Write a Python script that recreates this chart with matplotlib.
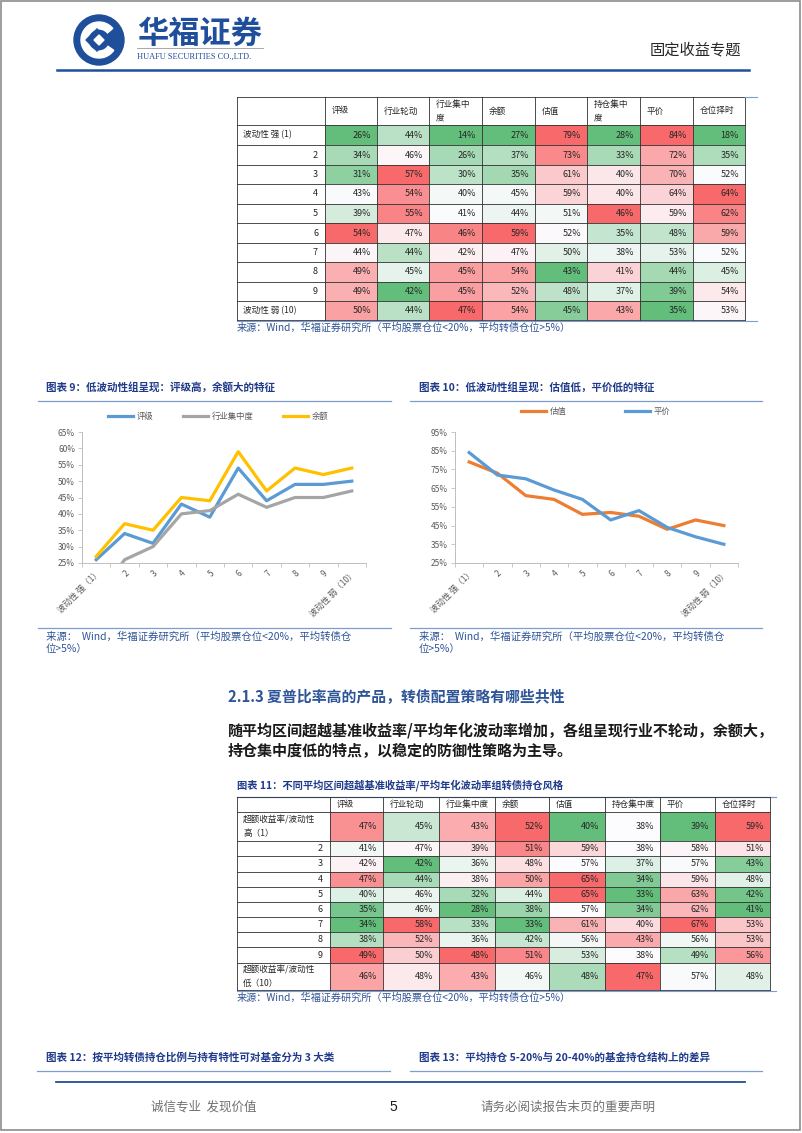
import matplotlib.pyplot as plt
import numpy as np
from matplotlib.patches import Rectangle, Circle, Wedge, Polygon
from matplotlib.ticker import FuncFormatter

plt.rcParams['font.family'] = ['Noto Sans CJK SC', 'DejaVu Sans']

W, H = 802, 1133

# ---- table 1 / charts 9-10 data (波动性分组) ----
t1_cols = ['评级', '行业轮动', '行业集中\n度', '余额', '估值', '持仓集中\n度', '平价', '仓位择时']
t1_rows = ['波动性 强 (1)', '2', '3', '4', '5', '6', '7', '8', '9', '波动性 弱 (10)']
vol_rating = [26, 34, 31, 43, 39, 54, 44, 49, 49, 50]
vol_rotation = [44, 46, 57, 54, 55, 47, 44, 45, 42, 44]
vol_ind_conc = [14, 26, 30, 40, 41, 46, 42, 45, 45, 47]
vol_balance = [27, 37, 35, 45, 44, 59, 47, 54, 52, 54]
vol_valuation = [79, 73, 61, 59, 51, 52, 50, 43, 48, 45]
vol_hold_conc = [28, 33, 40, 40, 46, 35, 38, 41, 37, 43]
vol_parity = [84, 72, 70, 64, 59, 48, 53, 44, 39, 35]
vol_timing = [18, 35, 52, 64, 62, 59, 52, 45, 54, 53]

chart_cats = ['波动性 强（1）', '2', '3', '4', '5', '6', '7', '8', '9', '波动性 弱（10）']

# ---- table 2 data (超额收益率/波动性分组) ----
t2_cols = ['评级', '行业轮动', '行业集中度', '余额', '估值', '持仓集中度', '平价', '仓位择时']
t2_rows = ['超额收益率/波动性\n高（1）', '2', '3', '4', '5', '6', '7', '8', '9',
           '超额收益率/波动性\n低（10）']
sr_rating = [47, 41, 42, 47, 40, 35, 34, 38, 49, 46]
sr_rotation = [45, 47, 42, 44, 46, 46, 58, 52, 50, 48]
sr_ind_conc = [43, 39, 36, 38, 32, 28, 33, 36, 48, 43]
sr_balance = [52, 51, 48, 50, 44, 38, 33, 42, 51, 46]
sr_valuation = [40, 59, 57, 65, 65, 57, 61, 56, 53, 48]
sr_hold_conc = [38, 38, 37, 34, 33, 34, 40, 43, 38, 47]
sr_parity = [39, 58, 57, 59, 63, 62, 67, 56, 49, 57]
sr_timing = [59, 51, 43, 48, 42, 41, 53, 53, 56, 48]

BLUE = '#1F4E9A'
TITLE_BLUE = '#1F3A8A'
SRC_BLUE = '#2F5496'
LINE_BLUE = '#7F9CD0'


def frac(x0, y0, x1, y1):
    return [x0 / W, 1 - y1 / H, (x1 - x0) / W, (y1 - y0) / H]


def scale_colors(vals):
    # excel style 3-colour scale: min green, median white, max red
    green = np.array([99, 190, 123]) / 255
    white = np.array([252, 252, 255]) / 255
    red = np.array([248, 105, 107]) / 255
    v = np.array(vals, float)
    lo, mid, hi = v.min(), np.percentile(v, 50), v.max()
    out = []
    for x in v:
        if x <= mid:
            t = 0 if mid == lo else (x - lo) / (mid - lo)
            out.append(green + (white - green) * t)
        else:
            t = (x - mid) / (hi - mid)
            out.append(white + (red - white) * t)
    return out


def draw_table(ax, cols, rows, data, xe, ye, fs=6.2):
    for j, c in enumerate(cols):
        ax.text(xe[j + 1] + 7, (ye[0] + ye[1]) / 2, c, ha='left', va='center',
                fontsize=fs, color='#262626', linespacing=1.7)
    colours = [scale_colors(col) for col in data]
    for i, r in enumerate(rows):
        y0, y1 = ye[i + 1], ye[i + 2]
        ym = (y0 + y1) / 2
        if r.isdigit():
            ax.text(xe[1] - 7, ym, r, ha='right', va='center', fontsize=fs + 0.3, color='#262626')
        else:
            ax.text(xe[0] + 6, ym, r, ha='left', va='center', fontsize=fs,
                    color='#262626', linespacing=1.7)
        for j in range(len(cols)):
            ax.add_patch(Rectangle((xe[j + 1], y0), xe[j + 2] - xe[j + 1], y1 - y0,
                                   facecolor=colours[j][i], edgecolor='none'))
            ax.text(xe[j + 2] - 6, ym, f'{data[j][i]}%', ha='right', va='center',
                    fontsize=fs + 0.3, color='#262626')
    for x in xe:
        ax.plot([x, x], [ye[0], ye[-1]], color='#303030', lw=0.6)
    for y in ye:
        ax.plot([xe[0], xe[-1]], [y, y], color='#303030', lw=0.6)


def style_chart(ax, ymin, ymax, step):
    ax.set_xlim(-0.5, 9.5)
    ax.set_ylim(ymin / 100, ymax / 100)
    ax.set_yticks(np.arange(ymin, ymax + 1, step) / 100)
    ax.yaxis.set_major_formatter(FuncFormatter(lambda v, p: f'{v * 100:.0f}%'))
    ax.set_xticks(np.arange(10))
    ax.set_xticklabels(chart_cats, rotation=45, ha='right', rotation_mode='anchor')
    ax.set_xticks(np.arange(-0.5, 10, 1), minor=True)
    ax.tick_params(axis='x', which='major', length=0, pad=4, labelsize=6, labelcolor='#595959')
    ax.tick_params(axis='x', which='minor', length=3, color='#BFBFBF', width=0.6)
    ax.tick_params(axis='y', length=3, color='#BFBFBF', width=0.6, labelsize=6,
                   labelcolor='#595959', pad=2)
    for s in ['top', 'right']:
        ax.spines[s].set_visible(False)
    for s in ['left', 'bottom']:
        ax.spines[s].set_color('#BFBFBF')
        ax.spines[s].set_linewidth(0.7)
    ax.patch.set_alpha(0)


fig = plt.figure(figsize=(W / 100, H / 100), dpi=100)
page = fig.add_axes([0, 0, 1, 1])
page.set_xlim(0, W)
page.set_ylim(H, 0)
page.axis('off')

# page frame
page.add_patch(Rectangle((1, 1), W - 3, H - 4, fill=False, edgecolor='#8C8C8C', lw=1.2))

# ---- header ----
page.add_patch(Circle((99, 40), 25, color=BLUE))
page.add_patch(Wedge((99, 40), 18, 35, 320, width=7, color='white'))
page.add_patch(Polygon([[97, 29], [109, 40], [97, 51], [86, 40]], closed=True, color=BLUE))
page.add_patch(Polygon([[99, 35], [104, 40], [99, 45], [94, 40]], closed=True, color='white'))
page.text(137, 34, '华福证券', fontsize=22.5, fontweight='bold', color=BLUE, ha='left', va='center')
page.plot([137, 263], [48, 48], color='#9A9A9A', lw=0.6)
page.text(137, 57, 'HUAFU SECURITIES CO.,LTD.', fontsize=6, family='Liberation Serif',
          color=BLUE, ha='left', va='center')
page.text(741, 50, '固定收益专题', fontsize=11, color='#262626', ha='right', va='center')
page.plot([57, 749], [70, 70], color=BLUE, lw=1.8)

# ---- table 1 ----
t1_data = [vol_rating, vol_rotation, vol_ind_conc, vol_balance,
           vol_valuation, vol_hold_conc, vol_parity, vol_timing]
draw_table(page, t1_cols, t1_rows, t1_data,
           [237, 325, 377, 429, 482, 535, 587, 640, 693, 745],
           [97, 125, 145, 165, 184, 204, 223, 243, 262, 282, 301, 320])
page.plot([745, 757], [97, 97], color=LINE_BLUE, lw=0.8)
page.plot([237, 757], [321, 321], color=LINE_BLUE, lw=0.8)
page.text(237, 328, '来源：Wind，华福证券研究所（平均股票仓位<20%，平均转债仓位>5%）',
          fontsize=7.3, style='italic', color=SRC_BLUE, ha='left', va='center')

# ---- chart 9 ----
page.text(46, 387, '图表 9：低波动性组呈现：评级高，余额大的特征', fontsize=7.6,
          fontweight='bold', color=TITLE_BLUE, ha='left', va='center')
page.plot([38, 391], [401, 401], color=LINE_BLUE, lw=0.9)
page.plot([38, 391], [628, 628], color=LINE_BLUE, lw=0.9)
page.text(46, 637, '来源：  Wind，华福证券研究所（平均股票仓位<20%，平均转债仓', fontsize=7.5,
          style='italic', color=SRC_BLUE, ha='left', va='center')
page.text(46, 649, '位>5%）', fontsize=7.5, style='italic', color=SRC_BLUE, ha='left', va='center')

ax9 = fig.add_axes(frac(82, 432, 366, 563))
x = np.arange(10)
ax9.plot(x, np.array(vol_rating) / 100, color='#5B9BD5', lw=2.3, label='评级')
ax9.plot(x, np.array(vol_ind_conc) / 100, color='#A5A5A5', lw=2.3, label='行业集中度')
ax9.plot(x, np.array(vol_balance) / 100, color='#FFC000', lw=2.3, label='余额')
style_chart(ax9, 25, 65, 5)
ax9.legend(loc='lower center', bbox_to_anchor=(0.48, 1.058), ncol=3, frameon=False,
           fontsize=6, handlelength=3, handletextpad=0.4, columnspacing=3.6,
           labelcolor='#595959', borderaxespad=0)

# ---- chart 10 ----
page.text(419, 387, '图表 10：低波动性组呈现：估值低，平价低的特征', fontsize=7.6,
          fontweight='bold', color=TITLE_BLUE, ha='left', va='center')
page.plot([410, 762], [401, 401], color=LINE_BLUE, lw=0.9)
page.plot([410, 762], [628, 628], color=LINE_BLUE, lw=0.9)
page.text(419, 637, '来源：  Wind，华福证券研究所（平均股票仓位<20%，平均转债仓', fontsize=7.5,
          style='italic', color=SRC_BLUE, ha='left', va='center')
page.text(419, 649, '位>5%）', fontsize=7.5, style='italic', color=SRC_BLUE, ha='left', va='center')

ax10 = fig.add_axes(frac(455, 432, 738, 563))
ax10.plot(x, np.array(vol_valuation) / 100, color='#ED7D31', lw=2.3, label='估值')
ax10.plot(x, np.array(vol_parity) / 100, color='#5B9BD5', lw=2.3, label='平价')
style_chart(ax10, 25, 95, 10)
ax10.legend(loc='lower center', bbox_to_anchor=(0.497, 1.095), ncol=2, frameon=False,
            fontsize=6, handlelength=3, handletextpad=0.4, columnspacing=7,
            labelcolor='#595959', borderaxespad=0)

# ---- section text ----
page.text(228, 697, '2.1.3 夏普比率高的产品，转债配置策略有哪些共性', fontsize=10.7,
          fontweight='bold', color='#2E5597', ha='left', va='center')
page.text(228, 731, '随平均区间超越基准收益率/平均年化波动率增加，各组呈现行业不轮动，余额大，',
          fontsize=10.85, fontweight='bold', color='#1A1A1A', ha='left', va='center')
page.text(228, 751, '持仓集中度低的特点，以稳定的防御性策略为主导。',
          fontsize=10.85, fontweight='bold', color='#1A1A1A', ha='left', va='center')

# ---- table 2 ----
page.text(237, 785, '图表 11：不同平均区间超越基准收益率/平均年化波动率组转债持仓风格',
          fontsize=7.4, fontweight='bold', color=TITLE_BLUE, ha='left', va='center')
page.plot([237, 776], [797, 797], color=LINE_BLUE, lw=0.9)
t2_data = [sr_rating, sr_rotation, sr_ind_conc, sr_balance,
           sr_valuation, sr_hold_conc, sr_parity, sr_timing]
draw_table(page, t2_cols, t2_rows, t2_data,
           [237, 330, 383, 439, 495, 549, 605, 660, 715, 770],
           [797, 812, 841, 856, 872, 887, 902, 917, 932, 947, 963, 990])
page.plot([237, 776], [991, 991], color=LINE_BLUE, lw=0.8)
page.text(237, 998, '来源：Wind，华福证券研究所（平均股票仓位<20%，平均转债仓位>5%）',
          fontsize=7.3, style='italic', color=SRC_BLUE, ha='left', va='center')

# ---- chart 12 / 13 titles ----
page.text(46, 1057, '图表 12：按平均转债持仓比例与持有特性可对基金分为 3 大类', fontsize=7.6,
          fontweight='bold', color=TITLE_BLUE, ha='left', va='center')
page.plot([37, 390], [1071, 1071], color=LINE_BLUE, lw=0.9)
page.text(419, 1057, '图表 13：平均持仓 5-20%与 20-40%的基金持仓结构上的差异', fontsize=7.6,
          fontweight='bold', color=TITLE_BLUE, ha='left', va='center')
page.plot([410, 762], [1071, 1071], color=LINE_BLUE, lw=0.9)

# ---- footer ----
page.plot([56, 745], [1082, 1082], color=BLUE, lw=1.3)
page.text(204, 1107, '诚信专业  发现价值', fontsize=9, color='#707070', ha='center', va='center')
page.text(393, 1107, '5', fontsize=10, color='#1A1A1A', ha='center', va='center',
          family='Liberation Sans')
page.text(568, 1107, '请务必阅读报告末页的重要声明', fontsize=9, color='#707070',
          ha='center', va='center')

fig.savefig('out.png', dpi=100)
